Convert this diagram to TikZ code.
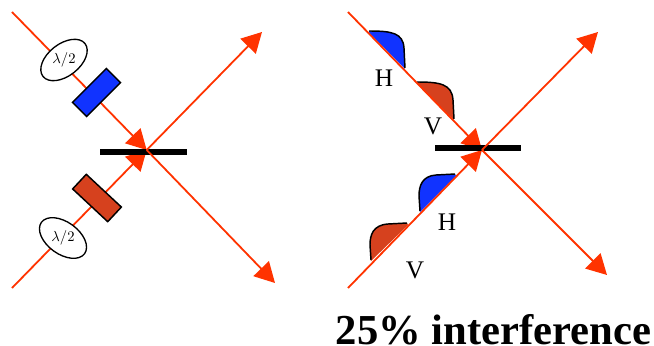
\documentclass[tikz,border=0pt]{standalone}
\usepackage{amsmath}
\usepackage{fontspec}
\setmainfont{Liberation Serif}
\usetikzlibrary{arrows.meta, shapes.geometric}
\definecolor{beamred}{HTML}{FF3300}
\definecolor{plateblue}{HTML}{1133FF}
\definecolor{platered}{HTML}{D6411E}

\begin{document}
\begin{tikzpicture}[
            x=0.75pt,
            y=-0.75pt,
            beam/.style={
                draw=beamred,
                line width=1.35pt,
                -{Triangle[length=15pt, width=16pt]} % big solid heads
            },
            plate/.style={
                shape=rectangle,
                draw=black,
                line width=1.1pt,
                minimum width=36pt,
                minimum height=15pt,
                inner sep=0pt
            },
            waveplate/.style={
                shape=ellipse,
                draw=black,
                fill=white,
                line width=1pt,
                minimum width=40pt,
                minimum height=24pt,
                inner sep=0pt
            },
            splitter/.style={
                shape=rectangle,
                fill=black,
                minimum width=65pt,
                minimum height=4.9pt,
                inner sep=0pt
            },
            hump/.style={draw=black, line width=1.1pt},
            pol/.style={font=\rmfamily\fontsize{19}{19}\selectfont},
            halfwave/.style={font=\fontsize{10.5}{10.5}\selectfont}
        ]
        \useasboundingbox (0,0) rectangle (654,346);

        % left setup
        \coordinate (la) at (12,12);
        \coordinate (lb) at (12,288);
        \coordinate (lc) at (146.7,150);
        \coordinate (ld) at (262,32);
        \coordinate (le) at (275,283);
        \draw[beam] (la) -- (lc);
        \draw[beam] (lb) -- (lc);
        \node[splitter] (lbar) at (143.5,151.8) {};
        \draw[beam] (lc) -- (ld);
        \draw[beam] (lc) -- (le);
        \node[plate, fill=plateblue, rotate=45] (pa) at (96.5,92.5) {};
        \node[plate, fill=platered, rotate=-43] (pb) at (97,198) {};
        \node[waveplate, rotate=38] (wa) at (64,60) {};
        \node[waveplate, rotate=-36] (wb) at (63,238) {};
        \node[halfwave] (ta) at (wa) {$\lambda/2$};
        \node[halfwave] (tb) at (wb) {$\lambda/2$};

        % pulses on the beams
        \fill[plateblue] (369,32.5) -- (369,31) .. controls (392,31) and (403,33) .. (404,48) -- (405,69) -- cycle;
        \draw[hump] (369,31) .. controls (392,31) and (403,33) .. (404,48) -- (405,68);
        \fill[platered] (417,83.5) -- (417,82) .. controls (440,82) and (452,84) .. (453,100) -- (454,120) -- cycle;
        \draw[hump] (417,82) .. controls (440,82) and (452,84) .. (453,100) -- (454,119);
        \fill[plateblue] (456,176) -- (455,174) -- (436,175) .. controls (422,176) and (419,186) .. (419,196) -- (420,212) -- cycle;
        \draw[hump] (455,174) -- (436,175) .. controls (422,176) and (419,186) .. (419,196) -- (420,211);
        \fill[platered] (408,225) -- (407,223) -- (388,224) .. controls (373,225) and (370,235) .. (370,245) -- (371,261) -- cycle;
        \draw[hump] (407,223) -- (388,224) .. controls (373,225) and (370,235) .. (370,245) -- (371,260);

        % right setup
        \coordinate (ra) at (348,12);
        \coordinate (rb) at (348,288);
        \coordinate (rc) at (482,150);
        \coordinate (rd) at (598,32);
        \coordinate (re) at (607,275);
        \draw[beam] (ra) -- (rc);
        \draw[beam] (rb) -- (rc);
        \node[splitter] (rbar) at (478,148) {};
        \draw[beam] (rc) -- (rd);
        \draw[beam] (rc) -- (re);

        \node[pol] (ha) at (384,78) {H};
        \node[pol] (va) at (433,126) {V};
        \node[pol] (hb) at (447,222) {H};
        \node[pol] (vb) at (415,270) {V};
        \node[anchor=base, inner sep=0pt, font=\rmfamily\bfseries\fontsize{32}{32}\selectfont] (result) at (493.5,344.5) {25\% interference};
    \end{tikzpicture}
\end{document}
